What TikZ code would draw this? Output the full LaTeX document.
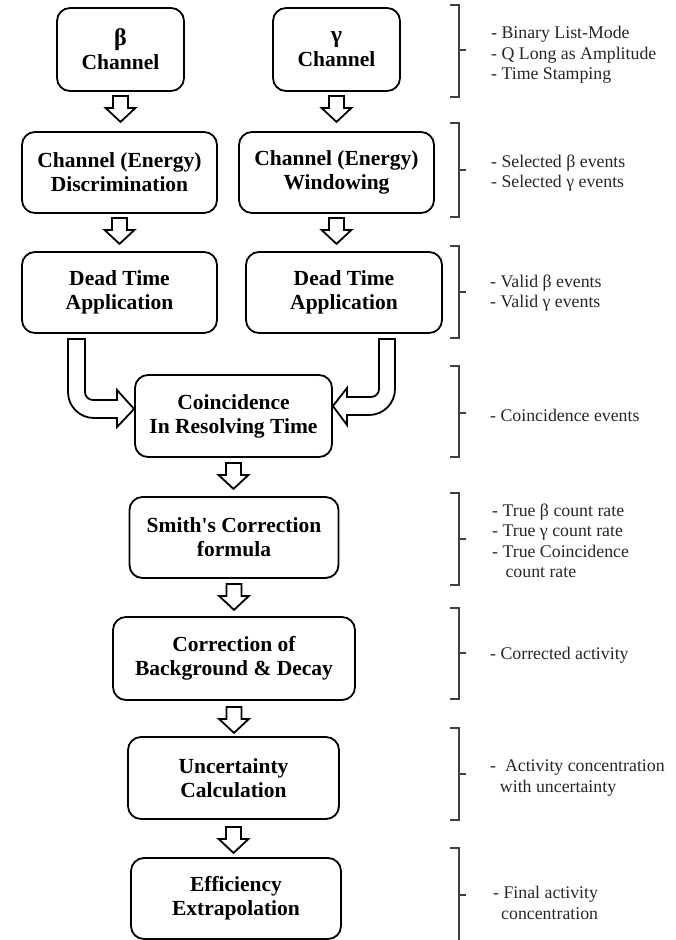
\documentclass[tikz,border=0pt]{standalone}
\usepackage{fontspec}
\setmainfont{Liberation Serif}
\newfontfamily\plainserif{Liberation Serif}
\usetikzlibrary{calc}
\begin{document}
\begin{tikzpicture}[x=1pt,y=-1pt,
  box/.style={draw, line width=1.8pt, rounded corners=13pt, align=center,
    font=\fontsize{21.5}{24}\selectfont\bfseries, inner sep=0pt},
  note/.style={anchor=west, align=left, font=\fontsize{17.8}{20.5}\selectfont,
    text=black!85, inner sep=0pt},
  brk/.style={draw=black!75, line width=1.3pt},
  blk/.style={draw, line width=1.8pt, fill=white, line join=miter},
  darrow/.pic={\draw[blk] (-7.5,0) -- (7.5,0) -- (7.5,12) -- (15,12) -- (0,26)
    -- (-15,12) -- (-7.5,12) -- cycle;}]
\useasboundingbox (0,0) rectangle (675,940);

% boxes
\node[box, minimum width=127pt, minimum height=83pt] (beta) at (120.5,49.5) {{\fontsize{24}{24}\selectfont β}\\Channel};
\node[box, minimum width=127pt, minimum height=83pt] (gamma) at (336.5,49.5) {{\fontsize{24}{24}\selectfont γ}\\Channel};
\node[box, minimum width=195pt, minimum height=81pt] (disc) at (119.5,172.5) {Channel (Energy)\\Discrimination};
\node[box, minimum width=195pt, minimum height=81pt] (wind) at (336.5,172.5) {Channel (Energy)\\Windowing};
\node[box, minimum width=195pt, minimum height=81pt] (dta) at (119.5,292.5) {Dead Time\\Application};
\node[box, minimum width=196pt, minimum height=81pt] (dtb) at (344,292.5) {Dead Time\\Application};
\node[box, minimum width=197pt, minimum height=82pt] (coin) at (233.5,416) {Coincidence\\In Resolving Time};
\node[box, minimum width=209pt, minimum height=81pt] (smith) at (234,537.5) {Smith{\plainserif\bfseries '}s Correction\\formula};
\node[box, minimum width=242pt, minimum height=83pt] (corr) at (234,658.5) {Correction of\\Background \& Decay};
\node[box, minimum width=211pt, minimum height=82pt] (unc) at (233.5,778) {Uncertainty\\Calculation};
\node[box, minimum width=210pt, minimum height=81pt] (eff) at (236,898.5) {Efficiency\\Extrapolation};

% straight block arrows
\pic at ($(beta.south)+(0,4)$) {darrow};
\pic at ($(gamma.south)+(0,4)$) {darrow};
\pic at ($(disc.south)+(0,4)$) {darrow};
\pic at ($(wind.south)+(0,4)$) {darrow};
\pic at ($(coin.south)+(0,5)$) {darrow};
\pic at ($(smith.south)+(0,5)$) {darrow};
\pic at ($(corr.south)+(0,6)$) {darrow};
\pic at ($(unc.south)+(0,7)$) {darrow};

% curved block arrows into coincidence
\draw[blk] (68,339) -- (85,339) -- (85,392)
  .. controls (85,396.4) and (88.6,400) .. (93,400) -- (117,400) -- (117,390)
  -- (coin.west |- 0,409) -- (117,427) -- (117,418) -- (94,418)
  .. controls (79.6,418) and (68,406.4) .. (68,392) -- cycle;
\draw[blk] (395,339) -- (379,339) -- (379,389)
  .. controls (379,393.4) and (375.4,397) .. (371,397) -- (347,397) -- (347,388)
  -- (coin.east |- 0,406) -- (347,425) -- (347,415) -- (369,415)
  .. controls (383.4,415) and (395,403.4) .. (395,389) -- cycle;

% brackets
\foreach \t/\m/\b in {5/50/97, 123/170/217, 246/292/338, 366/413/457,
  493/539/585, 608/653/699, 728/774/820, 848/895/945}{
  \draw[brk] (450,\t) -- (459,\t) -- (459,\b) -- (450,\b);
  \draw[brk] (459,\m) -- (466,\m);
}

% notes
\node[note] (n1) at (491,55) {- Binary List-Mode\\- Q Long as Amplitude\\- Time Stamping};
\node[note] (n2) at (491,173) {- Selected β events\\- Selected γ events};
\node[note] (n3) at (490,293) {- Valid β events\\- Valid γ events};
\node[note] (n4) at (490,415) {- Coincidence events};
\node[note] (n5) at (492,541) {- True β count rate\\- True γ count rate\\- True Coincidence\\\hspace*{0.75em}count rate};
\node[note] (n6) at (490,655) {- Corrected activity};
\node[note] (n7) at (490,778) {-\ \ Activity concentration\\\hspace*{0.55em}with uncertainty};
\node[note] (n8) at (493,903) {- Final activity\\\hspace*{0.45em}concentration};
\end{tikzpicture}
\end{document}
